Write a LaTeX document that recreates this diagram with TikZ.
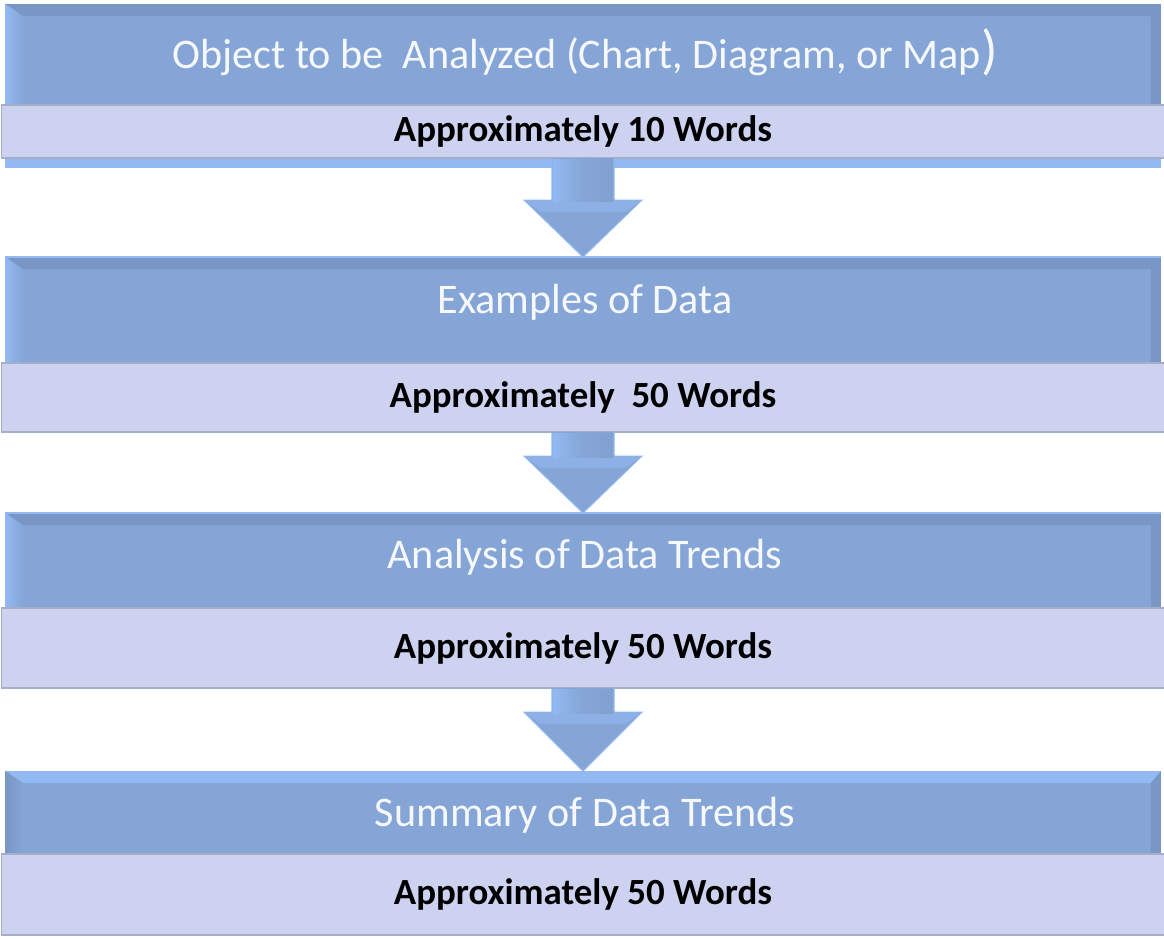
\documentclass[tikz,border=0pt]{standalone}
\usepackage{fontspec}
\setmainfont{Carlito}
\usetikzlibrary{calc}

\definecolor{ccblue}{RGB}{132,165,214}
\definecolor{cclight}{RGB}{146,185,242}
\definecolor{ccdark}{RGB}{122,150,196}
\definecolor{ccband}{RGB}{204,210,240}
\definecolor{ccedge}{RGB}{166,173,198}
\definecolor{cctext}{RGB}{246,248,253}

\begin{document}
\begin{tikzpicture}[x=0.02cm, y=0.02cm,
  headbox/.style={rectangle, fill=ccblue, inner sep=0pt, outer sep=0pt, minimum width=23.12cm},
  bandbox/.style={rectangle, fill=ccband, draw=ccedge, line width=0.8pt, inner sep=0pt, outer sep=0pt,
    minimum width=23.26cm, text=black, font=\fontsize{21}{25}\selectfont\bfseries},
  headtext/.style={text=cctext, inner sep=0pt, font=\fontsize{24}{28}\selectfont},
  arrowfill/.style={fill=ccblue, draw=cclight, line width=0.6pt}]

  \useasboundingbox (0,0) rectangle (1164,-938);

  % Block 1
  \node[headbox, minimum height=3.28cm] (head1) at (583,-86) {};
  \fill[ccdark] (head1.north west) -- (head1.north east) -- ($(head1.north east)+(-10,-12)$) -- ($(head1.north west)+(18,-12)$) -- cycle;
  \shade[left color=cclight, right color=ccblue] (head1.north west) -- ($(head1.north west)+(18,-12)$) -- ($(head1.south west)+(18,0)$) -- (head1.south west) -- cycle;
  \fill[ccdark] (head1.north east) -- ($(head1.north east)+(-10,-12)$) -- ($(head1.south east)+(-10,0)$) -- (head1.south east) -- cycle;
  \fill[cclight] ($(head1.south west)+(0,12)$) rectangle (head1.south east);
  \node[headtext] (title1) at (585,-52) {Object to be\ \ Analyzed (Chart, Diagram, or Map{\fontsize{31}{34}\selectfont )}};
  \node[bandbox, minimum height=1.06cm] (band1) at (583,-131.5) {Approximately 10 Words};

  % Block 2
  \node[headbox, minimum height=3.5cm] (head2) at (583,-344.5) {};
  \fill[ccdark] (head2.north west) -- (head2.north east) -- ($(head2.north east)+(-10,-12)$) -- ($(head2.north west)+(18,-12)$) -- cycle;
  \shade[left color=cclight, right color=ccblue] (head2.north west) -- ($(head2.north west)+(18,-12)$) -- ($(head2.south west)+(18,0)$) -- (head2.south west) -- cycle;
  \fill[ccdark] (head2.north east) -- ($(head2.north east)+(-10,-12)$) -- ($(head2.south east)+(-10,0)$) -- (head2.south east) -- cycle;
  \draw[cclight, line width=0.8pt] (head2.north west) -- (head2.north east);
  \node[headtext] (title2) at (585,-302) {Examples of Data};
  \node[bandbox, minimum height=1.38cm] (band2) at (583,-397.5) {Approximately\ \ 50 Words};

  % Block 3
  \node[headbox, minimum height=3.5cm] (head3) at (583,-600.5) {};
  \fill[ccdark] (head3.north west) -- (head3.north east) -- ($(head3.north east)+(-10,-12)$) -- ($(head3.north west)+(18,-12)$) -- cycle;
  \shade[left color=cclight, right color=ccblue] (head3.north west) -- ($(head3.north west)+(18,-12)$) -- ($(head3.south west)+(18,0)$) -- (head3.south west) -- cycle;
  \fill[ccdark] (head3.north east) -- ($(head3.north east)+(-10,-12)$) -- ($(head3.south east)+(-10,0)$) -- (head3.south east) -- cycle;
  \draw[cclight, line width=0.8pt] (head3.north west) -- (head3.north east);
  \node[headtext] (title3) at (585,-557) {Analysis of Data Trends};
  \node[bandbox, minimum height=1.6cm] (band3) at (583,-648) {Approximately 50 Words};

  % Block 4
  \node[headbox, minimum height=3.28cm] (head4) at (583,-853) {};
  \fill[cclight] (head4.north west) -- (head4.north east) -- ($(head4.north east)+(-10,-12)$) -- ($(head4.north west)+(18,-12)$) -- cycle;
  \shade[left color=ccdark, right color=ccblue] (head4.north west) -- ($(head4.north west)+(18,-12)$) -- ($(head4.south west)+(18,0)$) -- (head4.south west) -- cycle;
  \fill[ccdark] (head4.north east) -- ($(head4.north east)+(-10,-12)$) -- ($(head4.south east)+(-10,0)$) -- (head4.south east) -- cycle;
  \node[headtext] (title4) at (585,-815) {Summary of Data Trends};
  \node[bandbox, minimum height=1.62cm] (band4) at (583,-894.5) {Approximately 50 Words};

  % Arrows
  \filldraw[arrowfill] ($(band1.south)+(-31,0)$) -- ($(head2.north)+(-31,57)$) -- ($(head2.north)+(-59,57)$) -- (head2.north) -- ($(head2.north)+(59,57)$) -- ($(head2.north)+(31,57)$) -- ($(band1.south)+(31,0)$);
  \fill[cclight!60!ccblue] ($(head2.north)+(-58,56)$) -- ($(head2.north)+(58,56)$) -- ($(head2.north)+(42,45)$) -- ($(head2.north)+(-42,45)$) -- cycle;
  \shade[left color=cclight, right color=ccblue] ($(band1.south)+(-30,-1)$) rectangle ($(head2.north)+(0,56)$);
  \shade[left color=ccblue, right color=ccblue!70!ccdark] ($(band1.south)+(0,-1)$) rectangle ($(head2.north)+(30,56)$);

  \filldraw[arrowfill] ($(band2.south)+(-31,0)$) -- ($(head3.north)+(-31,57)$) -- ($(head3.north)+(-59,57)$) -- (head3.north) -- ($(head3.north)+(59,57)$) -- ($(head3.north)+(31,57)$) -- ($(band2.south)+(31,0)$);
  \fill[cclight!60!ccblue] ($(head3.north)+(-58,56)$) -- ($(head3.north)+(58,56)$) -- ($(head3.north)+(42,45)$) -- ($(head3.north)+(-42,45)$) -- cycle;
  \shade[left color=cclight, right color=ccblue] ($(band2.south)+(-30,-1)$) rectangle ($(head3.north)+(0,56)$);
  \shade[left color=ccblue, right color=ccblue!70!ccdark] ($(band2.south)+(0,-1)$) rectangle ($(head3.north)+(30,56)$);

  \filldraw[arrowfill] ($(band3.south)+(-31,0)$) -- ($(head4.north)+(-31,59)$) -- ($(head4.north)+(-59,59)$) -- (head4.north) -- ($(head4.north)+(59,59)$) -- ($(head4.north)+(31,59)$) -- ($(band3.south)+(31,0)$);
  \fill[cclight!60!ccblue] ($(head4.north)+(-58,58)$) -- ($(head4.north)+(58,58)$) -- ($(head4.north)+(42,47)$) -- ($(head4.north)+(-42,47)$) -- cycle;
  \shade[left color=cclight, right color=ccblue] ($(band3.south)+(-30,-1)$) rectangle ($(head4.north)+(0,58)$);
  \shade[left color=ccblue, right color=ccblue!70!ccdark] ($(band3.south)+(0,-1)$) rectangle ($(head4.north)+(30,58)$);

\end{tikzpicture}
\end{document}
